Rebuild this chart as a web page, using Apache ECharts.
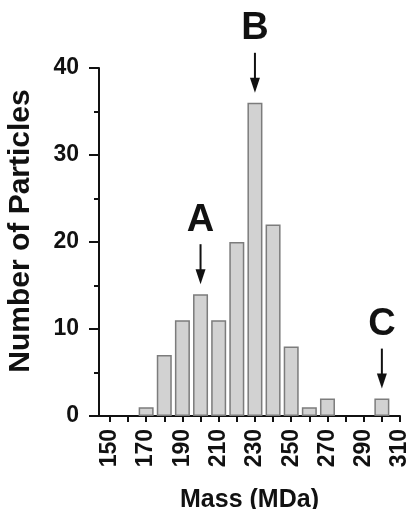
<!DOCTYPE html>
<html>
<head>
    <meta charset="UTF-8">
    <title></title>
    <script src="https://cdn.jsdelivr.net/npm/echarts@6/dist/echarts.min.js"></script>
</head>
<style>
    *{ padding:0; margin:0; }
    body{ background:#fff; }
    #main{ width:409px; height:509px; }
</style>
<body>
<div id="main"></div>
<script>
// histogram bins (MDa) and counts
var massBins = [170, 180, 190, 200, 210, 220, 230, 240, 250, 260, 270, 300];
var counts   = [1, 7, 11, 14, 11, 20, 36, 22, 8, 1, 2, 2];
var xLabels  = [150, 170, 190, 210, 230, 250, 270, 290, 310];
var xTicks   = [150, 160, 170, 180, 190, 200, 210, 220, 230, 240, 250, 260, 270, 280, 290, 300, 310];
// peaks pointed out with arrows
var peakNames = ['A', 'B', 'C'];
var peakMass  = [200, 230, 300];
var peakCount = [14, 36, 2];

var font = '"Liberation Sans", Arial, sans-serif';
var myChart = echarts.init(document.getElementById('main'));

// arrow + letter drawn above a peak
function renderPeak(params, api) {
    var p = api.coord([api.value(0), api.value(1)]);
    var x = p[0];
    var tip = p[1] - 10, tail = tip - 40;
    return {
        type: 'group',
        children: [
            { type: 'line', shape: { x1: x, y1: tail, x2: x, y2: tip - 12 },
              style: { stroke: '#111', lineWidth: 2 } },
            { type: 'polygon', shape: { points: [[x - 5, tip - 15], [x + 5, tip - 15], [x, tip]] },
              style: { fill: '#111' } },
            { type: 'text', x: x, y: tail - 5,
              style: { text: peakNames[params.dataIndex], fontFamily: font, fontWeight: 'bold',
                       fontSize: 38, fill: '#111', align: 'center', verticalAlign: 'bottom' } }
        ]
    };
}

var option = {
    animation: false,
    grid: { left: 99, right: 9, top: 68, bottom: 93, containLabel: false, outerBoundsMode: 'none' },
    xAxis: {
        type: 'value',
        min: 144,
        max: 310,
        name: 'Mass (MDa)',
        nameLocation: 'middle',
        nameGap: 72,
        nameTextStyle: { fontFamily: font, fontWeight: 'bold', fontSize: 25, color: '#111' },
        axisLine: { show: true, lineStyle: { color: '#111', width: 2 } },
        axisTick: { show: true, customValues: xTicks, length: 6, lineStyle: { color: '#111', width: 2 } },
        axisLabel: {
            customValues: xLabels, rotate: 90, margin: 13,
            fontFamily: font, fontWeight: 'bold', fontSize: 23, color: '#111'
        },
        splitLine: { show: false }
    },
    yAxis: {
        type: 'value',
        min: 0,
        max: 40,
        interval: 10,
        axisLine: { show: true, lineStyle: { color: '#111', width: 2 } },
        axisTick: { show: true, length: 10, lineStyle: { color: '#111', width: 2 } },
        minorTick: { show: true, splitNumber: 2, length: 5, lineStyle: { color: '#111', width: 2 } },
        axisLabel: { margin: 20, fontFamily: font, fontWeight: 'bold', fontSize: 23, color: '#111' },
        splitLine: { show: false }
    },
    graphic: [{
        type: 'text',
        x: 21, y: 231,
        rotation: Math.PI / 2,
        style: { text: 'Number of Particles', fontFamily: font, fontWeight: 'bold', fontSize: 30,
                 fill: '#111', align: 'center', verticalAlign: 'middle' }
    }],
    series: [{
        type: 'bar',
        barWidth: 15,
        data: massBins.map(function (m, i) { return [m, counts[i]]; }),
        itemStyle: { color: '#d2d2d2', borderColor: '#7c7c7c', borderWidth: 1.5 }
    }, {
        type: 'custom',
        renderItem: renderPeak,
        clip: false,
        z: 10,
        data: peakMass.map(function (m, i) { return [m, peakCount[i]]; })
    }]
};
myChart.setOption(option);
</script>
</body>
</html>
